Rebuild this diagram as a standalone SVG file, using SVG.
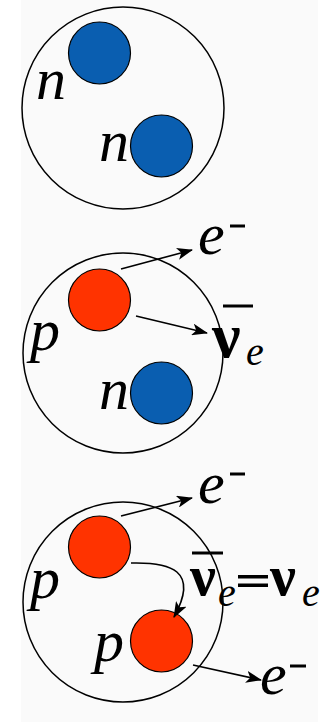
<svg xmlns="http://www.w3.org/2000/svg" width="327" height="722" viewBox="0 0 327 722">
<defs>
<style>
.bg{fill:#fafafa}
.nuc{fill:none;stroke:#000;stroke-width:1.5}
.neu{fill:#0a5eb0;stroke:#000;stroke-width:1.2}
.pro{fill:#ff3300;stroke:#000;stroke-width:1.2}
.lab{font-style:italic;font-size:60px;fill:#000}
.sub{font-style:italic;font-size:40px;fill:#000}
.nu{font-size:64px;font-weight:bold;fill:#000}
.nu2{font-size:58px;font-weight:bold;fill:#000}
.arr{fill:none;stroke:#000;stroke-width:1.6;marker-end:url(#ah)}
.bar{stroke:#000;stroke-width:3}
</style>
<marker id="ah" viewBox="0 0 16 12" refX="15" refY="6" markerWidth="16" markerHeight="12" markerUnits="userSpaceOnUse" orient="auto">
<path d="M0,0 L16,6 L0,12 L4,6 Z" fill="#000"/>
</marker>
</defs>
<rect class="bg" x="21" y="0" width="297" height="722"/>
<g font-family="'Liberation Serif', 'Times New Roman', serif">
<g id="nucleus1">
<circle class="nuc" cx="123" cy="108" r="101"/>
</g>
<g id="n1"><circle class="neu" cx="99.5" cy="53" r="31"/><text class="lab" x="36" y="99">n</text></g>
<g id="n2"><circle class="neu" cx="161.5" cy="146" r="31"/><text class="lab" x="99" y="161">n</text></g>

<g id="nucleus2"><circle class="nuc" cx="123" cy="353" r="100"/></g>
<g id="p3"><circle class="pro" cx="99.5" cy="300" r="31"/><text class="lab" x="30" y="350">p</text></g>
<g id="n3"><circle class="neu" cx="161.5" cy="393" r="31"/><text class="lab" x="99" y="409">n</text></g>
<g id="e1"><text class="lab" x="198" y="254">e</text><line class="bar" x1="230" y1="226" x2="245" y2="226"/></g>
<g id="nubar1"><text class="nu" x="212" y="357">ν</text><line class="bar" x1="223" y1="306" x2="253" y2="306"/><text class="sub" x="246" y="365">e</text></g>

<g id="nucleus3"><circle class="nuc" cx="123" cy="602" r="100"/></g>
<g id="p4"><circle class="pro" cx="99.5" cy="547" r="31"/><text class="lab" x="30" y="598">p</text></g>
<g id="p5"><circle class="pro" cx="161.5" cy="641" r="31"/><text class="lab" x="94" y="661">p</text></g>
<g id="e2"><text class="lab" x="198" y="503">e</text><line class="bar" x1="230" y1="474" x2="245" y2="474"/></g>
<g id="nueq"><text class="nu2" x="190" y="595">ν</text><line class="bar" x1="192" y1="553" x2="223" y2="553"/><text class="sub" x="218" y="606">e</text><rect x="238" y="575" width="30" height="3.5" fill="#000"/><rect x="238" y="583.5" width="30" height="3.5" fill="#000"/><text class="nu2" x="270" y="595">ν</text><text class="sub" x="302" y="606">e</text></g>
<g id="e3"><text class="lab" x="260" y="694">e</text><line class="bar" x1="290" y1="666" x2="306" y2="666"/></g>
</g>
<g id="connectors">
<path class="arr" d="M121,269 L192,250"/>
<path class="arr" d="M136,316 L207,333"/>
<path class="arr" d="M121,516 L192,498"/>
<path class="arr" d="M131,563 C170,562 200,570 174,617"/>
<path class="arr" d="M193,665 L261,680"/>
</g>
</svg>
